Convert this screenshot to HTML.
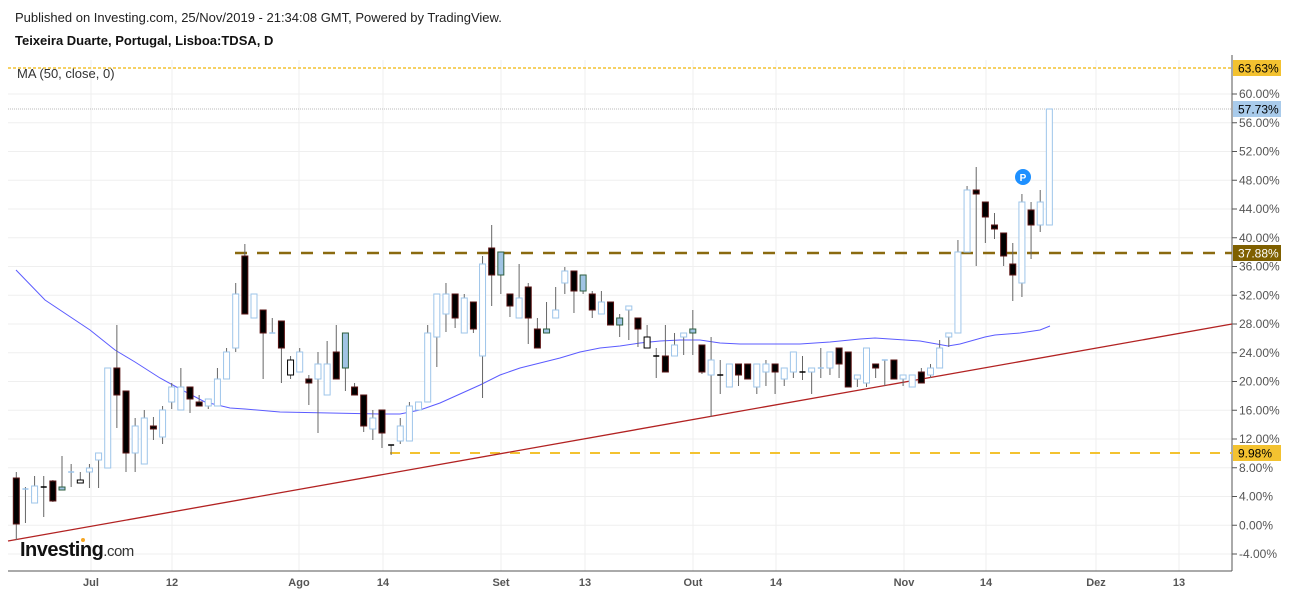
<!DOCTYPE html>
<html><head><meta charset="utf-8"><style>
body{margin:0;background:#fff;width:1299px;height:595px;overflow:hidden;font-family:"Liberation Sans",Arial,sans-serif}
</style></head><body>
<svg id="s" width="1299" height="595" xmlns="http://www.w3.org/2000/svg" style="position:absolute;left:0;top:0">
<text x="15" y="22" font-size="13" fill="#222">Published on Investing.com, 25/Nov/2019 - 21:34:08 GMT, Powered by TradingView.</text>
<text x="15" y="45" font-size="13" font-weight="bold" fill="#111">Teixeira Duarte, Portugal, Lisboa:TDSA, D</text>
<g id="g"></g>
<text x="17" y="78" font-size="13" fill="#333">MA (50, close, 0)</text>
</svg>
<script>
const g=document.getElementById('g');let h='';
const Y=v=>94+(60-v)*7.1875;
for(let v=-4;v<=60;v+=4){const y=Y(v);h+=`<line x1="8" x2="1232" y1="${y}" y2="${y}" stroke="#efefef"/>`;
h+=`<line x1="1232" x2="1237" y1="${y}" y2="${y}" stroke="#555"/><text x="1239" y="${y+4}" font-size="12" fill="#555">${v.toFixed(2)}%</text>`;}
const xs=[[91,'Jul'],[172,'12'],[299,'Ago'],[383,'14'],[501,'Set'],[585,'13'],[693,'Out'],[776,'14'],[904,'Nov'],[986,'14'],[1096,'Dez'],[1179,'13']];
for(const [x,t] of xs){h+=`<line x1="${x}" x2="${x}" y1="60" y2="571" stroke="#efefef"/><text x="${x}" y="586" font-size="11" font-weight="bold" fill="#555" text-anchor="middle">${t}</text>`;}
h+=`<line x1="8" x2="1232" y1="571" y2="571" stroke="#555"/><line x1="1232" x2="1232" y1="55" y2="571" stroke="#555"/>`;
h+=`<line x1="8" x2="1232" y1="68" y2="68" stroke="#f3c230" stroke-width="1.5" stroke-dasharray="3,2"/>`;
h+=`<line x1="8" x2="1232" y1="109" y2="109" stroke="#bbb" stroke-dasharray="1,1"/>`;
h+=`<line x1="235" x2="1232" y1="253" y2="253" stroke="#8a6a10" stroke-width="2.5" stroke-dasharray="12,10"/>`;
h+=`<line x1="390" x2="1232" y1="453" y2="453" stroke="#f3c230" stroke-width="2" stroke-dasharray="10,10"/>`;
h+=`<line x1="8" y1="541" x2="1232" y2="324" stroke="#b22222" stroke-width="1.3"/>`;
const ma=[[16,270],[45,300],[90,330],[115,350],[135,362],[160,378],[182,390],[205,402],[230,408],[245,409],[280,412],[330,413],[380,414],[400,414],[420,410],[440,403],[460,394],[480,385],[500,375],[520,368],[540,363],[560,358],[580,352],[600,348],[620,346],[640,343],[660,341],[680,340],[700,340],[720,343],[740,344],[800,344],[830,342],[860,339],[875,338],[890,339],[920,341],[948,346],[960,344],[985,337],[995,335],[1020,333],[1040,330],[1050,326]];
h+=`<polyline fill="none" stroke="#5b5bff" stroke-width="1" points="${ma.map(p=>p.join(',')).join(' ')}"/>`;
const C=[['b',478,524,472,540],['D',489,489,487,523],['u',486,503,476,503],['d',487,487,476,517],['b',481,501,480,502],['t',487,490,456,490],['D',472,472,464,487],['w',480,483,472,483],['u',468,472,464,488],['u',453,460,453,488],
['u',368,468,368,468],['b',368,395,325,428],['b',391,453,391,472],['u',426,453,418,472],['u',418,464,410,464],['b',426,429,417,440],['u',410,437,406,444],['u',387,402,383,409],['u',387,410,368,410],['b',387,399,387,413],
['b',402,406,395,406],['u',399,406,399,409],['u',379,406,368,406],['u',352,379,348,379],['u',294,348,283,352],['b',256,314,244,314],['u',294,318,294,318],['b',310,333,310,379],['D',333,333,318,333],['b',321,348,321,383],
['w',360,375,356,379],['u',352,372,348,372],['b',379,383,375,405],['u',364,379,352,433],['u',364,395,341,395],['b',352,379,325,379],['t',333,368,333,391],['b',387,395,383,395],['b',395,426,395,432],['u',418,429,410,440],
['b',410,433,410,448],['d',445,445,445,455],['u',426,441,418,444],['u',406,441,402,441],['u',402,410,402,410],['u',333,402,325,402],['u',294,337,294,367],['u',294,314,283,332],['b',294,318,294,328],['u',298,333,294,333],
['b',302,329,302,333],['u',264,356,256,398],['b',248,275,225,306],['t',252,275,252,294],['b',294,306,294,317],['u',298,318,264,318],['b',287,318,283,344],['b',329,348,318,348],['t',329,333,302,333],['u',310,318,287,318],
['u',271,283,267,294],['b',271,291,271,313],['t',275,291,275,294],['b',294,310,291,318],['u',302,314,291,314],['b',302,325,302,325],['t',318,325,314,337],['u',306,310,306,340],['b',318,329,318,347],['w',337,348,325,348],
['d',356,356,348,378],['b',356,372,325,372],['u',345,356,333,356],['u',333,337,333,355],['t',329,333,310,355],['b',345,372,345,374],['u',360,375,337,417],['d',375,375,360,394],['u',364,387,364,387],['b',364,375,364,386],
['b',364,379,364,379],['u',364,387,364,394],['u',364,372,360,386],['b',364,372,364,394],['u',368,379,368,386],['u',352,372,352,378],['d',372,372,356,380],['u',368,372,368,394],['D',368,368,348,378],['u',352,368,352,375],
['b',348,364,348,378],['b',352,387,352,387],['u',375,379,375,387],['u',348,383,348,387],['b',364,368,364,378],['D',360,360,360,386],['b',360,379,360,379],['u',375,379,375,386],['u',375,387,375,387],['b',372,383,368,383],
['u',368,375,364,378],['u',348,368,340,368],['u',333,337,333,347],['u',252,333,240,333],['u',190,252,186,252],['b',190,194,167,266],['b',202,217,202,243],['b',225,229,213,239],['b',233,256,233,266],['b',264,275,243,301],
['u',202,283,194,297],['b',210,225,202,259],['u',202,225,190,232],['u',109,225,109,225]];
C.forEach((c,i)=>{const x=16.3+i*9.142;const [t,bt,bb,wt,wb]=c;
h+=`<line x1="${x}" x2="${x}" y1="${wt}" y2="${wb}" stroke="#666"/>`;
if(t==='d'||t==='D'){h+=`<line x1="${x-3}" x2="${x+3}" y1="${bt}" y2="${bt}" stroke="${t==='D'?'#9ec5ea':'#000'}" stroke-width="1.5"/>`;return;}
const st={b:'#5a1414',u:'#9ec5ea',w:'#000',t:'#2d5e3e'}[t],fl={b:'#000',u:'#fff',w:'#fff',t:'#a0c4e4'}[t];
h+=`<rect x="${x-3}" y="${bt}" width="6" height="${Math.max(bb-bt,2)}" fill="${fl}" stroke="${st}"/>`;});
h+=`<circle cx="1023" cy="177" r="8" fill="#1e90ff"/><text x="1023" y="181" font-size="10" font-weight="bold" fill="#fff" text-anchor="middle">P</text>`;
const tag=(y,bg,fg,t)=>`<rect x="1233" y="${y-8}" width="48" height="16" fill="${bg}"/><text x="1238" y="${y+4.5}" font-size="12" fill="${fg}">${t}</text>`;
h+=tag(68,'#f3c230','#000','63.63%')+tag(109,'#a9cbeb','#000','57.73%')+tag(253,'#7f6000','#fff','37.88%')+tag(453,'#f3c230','#000','9.98%');
h+=`<text x="20" y="556" font-size="20" font-weight="bold" fill="#111" letter-spacing="-0.5">Investing<tspan font-size="15" font-weight="normal" fill="#333">.com</tspan></text><circle cx="83" cy="540" r="2" fill="#f5a623"/>`;
g.innerHTML=h;
</script>
</body></html>
